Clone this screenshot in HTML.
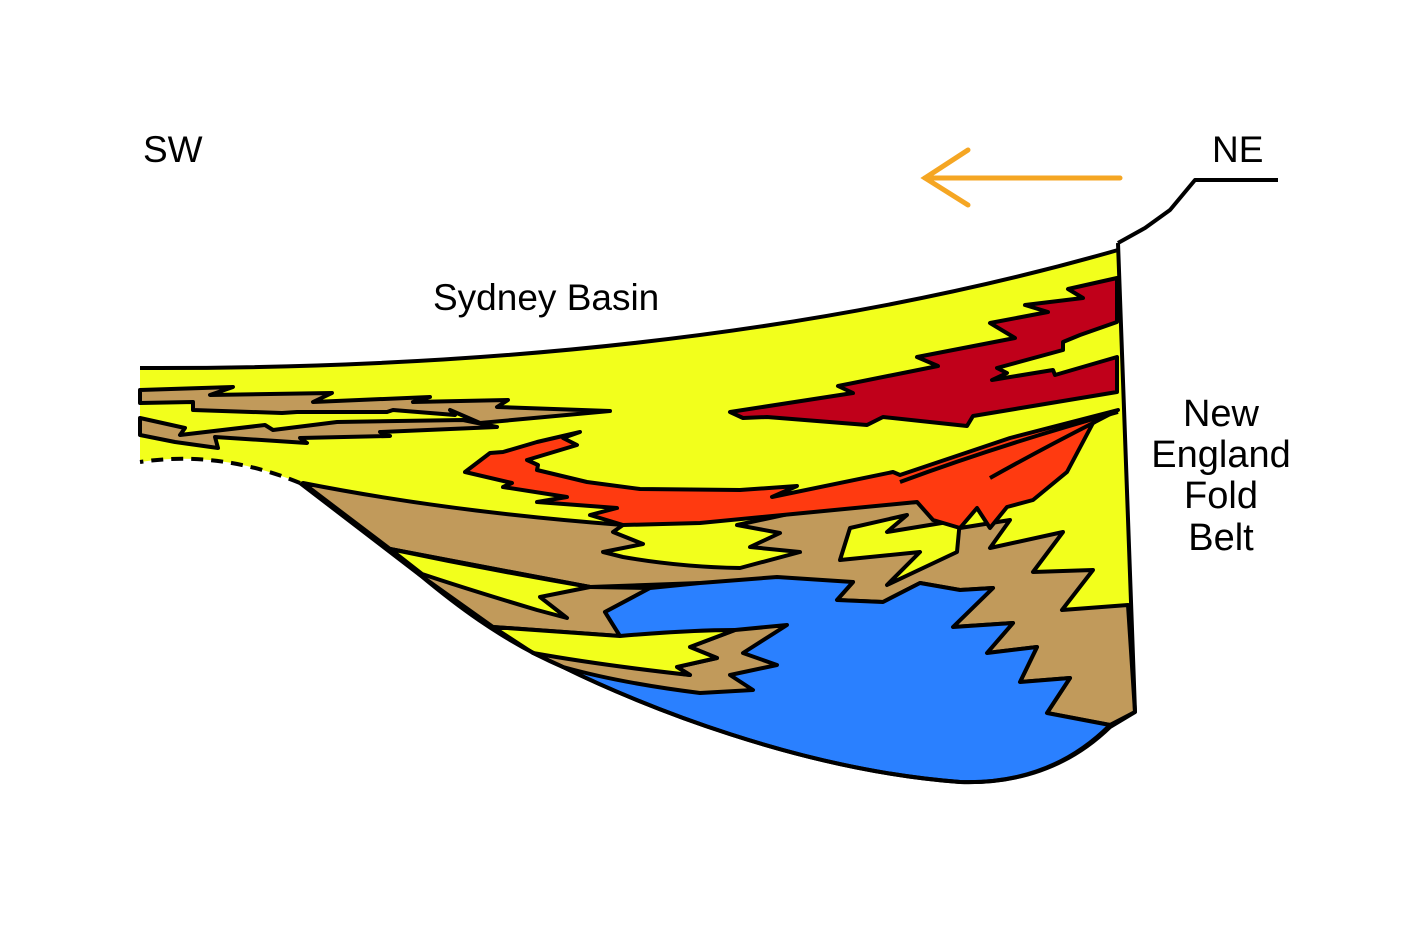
<!DOCTYPE html>
<html><head><meta charset="utf-8"><style>
html,body{margin:0;padding:0;background:#fff;}
svg{display:block}
text{font-family:"Liberation Sans",sans-serif;fill:#000}
</style></head><body>
<svg width="1419" height="946" viewBox="0 0 1419 946" xmlns="http://www.w3.org/2000/svg">
<g stroke="#000" stroke-width="4" stroke-linejoin="round">
<path d="M140,368 Q700,370 1118,250 L1135,712 L1110,727 Q1050,785 960,782 C800,770 640,705 563,667 C500,640 450,600 420,575 L300,483 Q220,450 140,462 Z" fill="#f2ff1c" stroke="none"/>
<!-- big brown middle -->
<path d="M303,483 Q450,512 623,525 L613,532 L643,544 L603,552 L623,557 Q680,567 740,568 L800,552 L750,547 L780,533 L737,525 L807,510 L873,505 L917,502 L960,528 L1010,520 L990,548 L1063,532 L1033,572 L1093,570 L1062,610 L1128,605 L1135,712 L1110,725 L1047,713 L1070,678 L1020,682 L1037,647 L987,653 L1013,623 L953,627 L993,588 L960,590 L920,583 L883,602 L837,600 L853,582 L700,583 L590,587 L390,549 Z" fill="#c19a5b"/>
<path d="M850,528 L907,515 L887,532 L960,520 L957,552 L887,585 L920,552 L840,560 Z" fill="#f2ff1c"/>
<path d="M390,549 L590,587 L650,588 L605,612 L620,636 L493,627 L420,575 Z" fill="#c19a5b"/>
<path d="M390,549 Q490,570 590,587 L540,597 L567,618 L537,610 Q470,590 422,574 Z" fill="#f2ff1c"/>
<path d="M620,636 L605,612 L650,588 L700,583 L777,577 L853,582 L837,600 L883,602 L920,583 L960,590 L993,588 L953,627 L1013,623 L987,653 L1037,647 L1020,682 L1070,678 L1047,713 L1110,725 Q1050,785 960,782 C800,770 640,705 563,667 Z" fill="#2a80ff"/>
<path d="M533,653 L690,675 L677,667 L717,658 L690,647 L735,630 L787,625 L743,653 L777,665 L730,675 L753,690 L700,693 Q620,683 563,667 Z" fill="#c19a5b"/>
<path d="M493,627 Q560,632 620,636 Q690,630 735,630 L690,647 L717,658 L677,667 L690,675 Q600,665 533,653 Z" fill="#f2ff1c"/>
<path d="M465,472 L490,453 L503,452 L537,442 L580,432 L563,438 L577,445 L527,460 L538,465 L537,470 L587,482 L640,489 L740,490 L797,486 L772,497 L893,472 L900,475 L1010,438 L1118,410 L1093,423 L1067,472 L1033,500 L1007,507 L990,528 L977,508 L960,528 L933,520 L917,502 L700,523 L623,525 L590,515 L617,508 L537,502 L567,497 L503,487 L512,483 Z" fill="#ff3a10"/>
<path d="M1118,412 Q1000,445 900,482" fill="none"/>
<path d="M1095,422 Q1040,450 990,478" fill="none"/>
<path d="M730,412 L853,393 L838,386 L938,366 L917,357 L1015,338 L990,323 L1048,312 L1025,305 L1083,298 L1068,289 L1117,278 L1117,322 L1080,335 L1063,342 L1063,350 L997,368 L1007,373 L992,380 L1053,370 L1055,375 L1117,357 L1117,392 L973,416 L967,426 L883,417 L867,425 L767,417 L743,418 Z" fill="#c0001a"/>
<path d="M140,390 L233,387 L210,395 L332,393 L313,402 L430,397 L413,402 L508,400 L497,407 L610,411 L480,423 L450,410 L455,415 L393,410 L387,412 L297,412 L282,413 L193,410 L193,402 L140,403 Z" fill="#c19a5b"/>
<path d="M140,418 L185,428 L180,435 L265,425 L273,430 L337,422 L463,420 L497,427 L380,432 L390,436 L300,438 L307,443 L215,437 L218,448 L175,442 L140,435 Z" fill="#c19a5b"/>
<path d="M140,368 Q700,370 1118,250" fill="none"/>
<path d="M1118,243 L1135,712 L1110,727 Q1050,785 960,782 C800,770 640,705 563,667 C500,640 450,600 420,575 L300,483" fill="none"/>
<path d="M300,483 Q220,450 140,462" fill="none" stroke-dasharray="12,8"/>
<path d="M1118,243 L1145,228 L1170,210 L1195,180 L1278,180" fill="none"/>
</g>
<g stroke="#f5a623" stroke-width="5" fill="none" stroke-linecap="round">
<path d="M1120,178 L925,178"/>
<path d="M968,150 L925,178 L968,205"/>
</g>
<text x="143" y="162" font-size="37">SW</text>
<text x="1212" y="162" font-size="37">NE</text>
<text x="433" y="310" font-size="37">Sydney Basin</text>
<g font-size="38" text-anchor="middle">
<text x="1221" y="426">New</text>
<text x="1221" y="467">England</text>
<text x="1221" y="508">Fold</text>
<text x="1221" y="550">Belt</text>
</g>
</svg>
</body></html>
